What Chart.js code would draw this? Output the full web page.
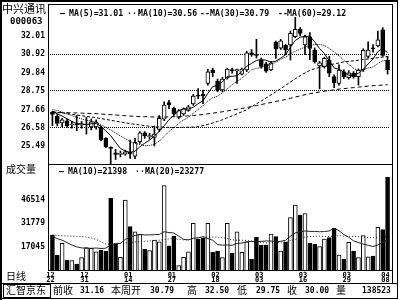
<!DOCTYPE html>
<html>
<head>
<meta charset="utf-8">
<script src="https://cdn.jsdelivr.net/npm/chart.js@4.4.1/dist/chart.umd.min.js"></script>
<style>
  body { margin: 0; background: #fff; }
  #wrap { position: relative; width: 400px; height: 300px; overflow: hidden; background: #fff; }
  canvas { position: absolute; left: 0; }
  .ln { position: absolute; background: #000; }
  .t { position: absolute; white-space: pre; line-height: 1; color: #000; }
  .cjk { font-family: "Noto Sans CJK SC"; }
  .mono { font-family: "DejaVu Sans Mono"; font-weight: bold; }
  .lg { font-size: 8.2px; top: 9px; }
  .vl { font-size: 8.2px; top: 167px; }
</style>
</head>
<body>
<div id="wrap">
  <canvas id="price" width="390" height="160" style="top:5px"></canvas>
  <canvas id="vol" width="390" height="118" style="top:165px"></canvas>

  <!-- frame -->
  <div class="ln" style="left:0;top:0;width:2px;height:300px"></div>
  <div class="ln" style="left:0;top:0;width:398px;height:2px"></div>
  <div class="ln" style="left:48px;top:4px;width:345px;height:1px"></div>
  <div class="ln" style="left:397px;top:0;width:1px;height:299px"></div>
  <div class="ln" style="left:392px;top:4px;width:1px;height:280px"></div>
  <div class="ln" style="left:48px;top:4px;width:1px;height:267px"></div>
  <div class="ln" style="left:48px;top:164px;width:345px;height:1px"></div>
  <div class="ln" style="left:48px;top:270px;width:345px;height:1px"></div>
  <div class="ln" style="left:0;top:283px;width:398px;height:1px"></div>
  <div class="ln" style="left:0;top:298px;width:398px;height:1px"></div>
  <div style="position:absolute;left:3px;top:284px;width:46px;height:12px;border:1px solid #000"></div>

  <!-- left column -->
  <div class="t cjk" style="left:2px;top:3px;font-size:11px">中兴通讯</div>
  <div class="t mono" style="left:10px;top:17px;font-size:9px">000063</div>
  <div class="t cjk" style="left:6px;top:164px;font-size:10px">成交量</div>
  <div class="t cjk" style="left:6px;top:271px;font-size:10px">日线</div>

  <!-- legends -->
  <div class="t mono lg" style="left:60px">—</div>
  <div class="t mono lg" style="left:69px">MA(5)=31.01</div>
  <div class="t mono lg" style="left:127px">···</div>
  <div class="t mono lg" style="left:138px">MA(10)=30.56</div>
  <div class="t mono lg" style="left:200px">--</div>
  <div class="t mono lg" style="left:210px">MA(30)=30.79</div>
  <div class="t mono lg" style="left:278px">--</div>
  <div class="t mono lg" style="left:287px">MA(60)=29.12</div>
  <div class="t mono vl" style="left:59px">—</div>
  <div class="t mono vl" style="left:68px">MA(10)=21398</div>
  <div class="t mono vl" style="left:135px">···</div>
  <div class="t mono vl" style="left:145px">MA(20)=23277</div>

  <!-- info bar -->
  <div class="t cjk" style="left:6px;top:285px;font-size:10px">汇智京东</div>
  <div class="t cjk" style="left:53px;top:285px;font-size:10px">前收</div>
  <div class="t mono" style="left:80px;top:287px;font-size:8px">31.16</div>
  <div class="t cjk" style="left:111px;top:285px;font-size:10px">本周开</div>
  <div class="t mono" style="left:150px;top:287px;font-size:8px">30.79</div>
  <div class="t cjk" style="left:187px;top:285px;font-size:10px">高</div>
  <div class="t mono" style="left:205px;top:287px;font-size:8px">32.50</div>
  <div class="t cjk" style="left:237px;top:285px;font-size:10px">低</div>
  <div class="t mono" style="left:256px;top:287px;font-size:8px">29.75</div>
  <div class="t cjk" style="left:287px;top:285px;font-size:10px">收</div>
  <div class="t mono" style="left:305px;top:287px;font-size:8px">30.00</div>
  <div class="t cjk" style="left:336px;top:285px;font-size:10px">量</div>
  <div class="t mono" style="left:362px;top:287px;font-size:8px">138523</div>
</div>

<script>
// trading days, 2004-12-22 .. 2005-04-08
const days = [
  "12/22","12/23","12/24","12/27","12/28","12/29","12/30","12/31",
  "01/04","01/05","01/06","01/07","01/10","01/11","01/12","01/13","01/14","01/17","01/18","01/19",
  "01/20","01/21","01/24","01/25","01/26","01/27","01/28","01/31",
  "02/01","02/02","02/03","02/04","02/16","02/17","02/18","02/21","02/22","02/23","02/24","02/25","02/28",
  "03/01","03/02","03/03","03/04","03/07","03/08","03/09","03/10","03/11","03/14","03/15","03/16",
  "03/17","03/18","03/21","03/22","03/23","03/24","03/25","03/28","03/29","03/30","03/31",
  "04/01","04/04","04/05","04/06","04/07","04/08"
];
const shownDays = ["12/22","12/31","01/14","01/27","02/18","03/03","03/16","03/29","04/08"];

const open = [27.51,27.27,26.86,26.99,26.74,26.80,26.74,26.74,26.62,26.62,26.60,25.95,25.42,25.10,25.00,25.02,25.12,24.90,25.75,26.28,
  26.05,26.00,26.48,27.08,28.06,27.73,27.19,27.39,27.60,27.98,28.50,28.56,29.20,29.99,29.34,28.81,29.52,29.99,29.95,29.75,
  29.99,31.01,30.90,30.60,30.35,30.00,31.63,31.28,31.45,31.47,31.96,32.40,31.47,31.96,31.17,30.23,30.19,30.58,29.60,29.20,
  29.89,29.54,29.80,29.60,29.99,30.79,31.30,31.41,32.36,30.58];
const high = [27.55,27.39,27.14,27.10,26.95,27.30,26.95,27.20,27.10,27.05,26.68,26.00,25.45,25.30,25.20,25.25,25.85,25.95,26.35,26.35,
  26.25,26.68,27.30,28.11,28.20,27.80,27.65,27.75,27.90,28.55,28.90,28.80,30.03,30.10,29.45,29.55,30.10,30.10,30.05,30.10,
  31.10,31.20,31.81,30.70,30.45,30.50,31.70,31.80,31.50,32.30,33.10,32.50,32.05,32.20,31.30,30.50,30.75,30.80,29.70,30.30,
  30.00,29.95,29.90,30.05,31.25,31.65,31.50,32.30,32.50,30.80];
const low = [26.70,26.68,26.64,26.60,26.55,26.40,26.55,26.20,26.45,26.50,25.80,25.40,24.40,24.70,24.85,24.95,24.77,24.75,25.65,25.95,
  25.90,25.50,26.35,27.00,27.70,27.30,27.10,27.30,27.55,27.90,28.30,28.00,29.10,29.60,28.70,28.70,29.45,29.80,29.20,29.70,
  29.90,30.80,30.70,30.10,29.85,29.95,30.68,31.20,30.90,30.58,31.90,32.00,30.90,30.60,30.40,28.87,30.10,29.60,28.95,29.10,
  29.50,29.45,29.50,29.10,29.90,30.70,31.05,31.35,30.80,29.75];
const close = [27.37,26.84,27.04,26.68,26.80,26.74,26.80,26.77,26.92,26.92,25.87,25.46,25.36,25.00,25.05,25.15,25.05,25.72,26.28,26.09,
  26.12,26.20,27.14,27.92,27.92,27.39,27.59,27.69,27.82,28.45,28.45,28.46,29.89,29.82,28.81,29.46,30.05,29.95,30.00,30.05,
  31.00,30.88,30.85,30.20,29.92,30.40,31.22,31.72,31.20,32.16,32.40,32.16,31.96,31.27,30.48,30.42,30.68,29.80,29.24,29.99,
  29.60,29.83,29.60,29.99,31.16,31.17,31.25,31.78,30.85,30.00];

const ma5 = [27.55,27.40,27.27,27.11,26.95,26.82,26.81,26.76,26.81,26.83,26.66,26.39,26.11,25.72,25.35,25.20,25.12,25.19,25.45,25.66,
  25.85,26.08,26.37,26.69,27.06,27.31,27.59,27.70,27.68,27.79,28.00,28.17,28.61,29.01,29.09,29.29,29.61,29.62,29.65,29.90,
  30.21,30.38,30.56,30.60,30.57,30.45,30.52,30.69,30.89,31.34,31.74,31.93,31.98,31.99,31.65,31.26,30.96,30.53,30.12,30.03,
  29.86,29.69,29.65,29.80,30.04,30.35,30.64,31.08,31.27,31.01];
const ma10 = [27.65,27.60,27.50,27.40,27.30,27.19,27.10,27.02,26.96,26.89,26.74,26.60,26.44,26.27,26.09,25.93,25.76,25.65,25.59,25.51,
  25.53,25.60,25.78,26.07,26.36,26.58,26.84,27.04,27.19,27.43,27.66,27.88,28.16,28.35,28.44,28.65,28.89,29.12,29.33,29.50,
  29.75,30.00,30.09,30.13,30.24,30.33,30.45,30.63,30.75,30.96,31.10,31.23,31.34,31.44,31.50,31.50,31.45,31.26,31.06,30.84,
  30.56,30.33,30.09,29.96,30.04,30.11,30.17,30.37,30.54,30.56];
const ma30 = [27.52,27.48,27.45,27.41,27.37,27.33,27.29,27.25,27.21,27.17,27.12,27.07,27.02,26.97,26.92,26.87,26.82,26.78,26.74,26.70,
  26.67,26.64,26.62,26.61,26.60,26.59,26.59,26.60,26.61,26.62,26.64,26.70,26.78,26.86,26.95,27.05,27.17,27.28,27.40,27.52,
  27.64,27.82,27.99,28.16,28.34,28.52,28.70,28.89,29.08,29.29,29.47,29.65,29.82,29.97,30.07,30.15,30.22,30.29,30.35,30.41,
  30.47,30.50,30.54,30.57,30.61,30.64,30.68,30.72,30.75,30.79];
const ma60 = [27.50,27.49,27.48,27.47,27.46,27.45,27.44,27.43,27.42,27.41,27.39,27.37,27.35,27.33,27.31,27.29,27.27,27.25,27.24,27.23,
  27.22,27.21,27.21,27.21,27.22,27.23,27.24,27.26,27.28,27.30,27.33,27.36,27.40,27.44,27.48,27.52,27.57,27.62,27.67,27.72,
  27.77,27.83,27.89,27.95,28.01,28.07,28.13,28.19,28.25,28.32,28.39,28.46,28.53,28.59,28.64,28.69,28.74,28.78,28.82,28.86,
  28.89,28.92,28.95,28.98,29.01,29.04,29.06,29.08,29.10,29.12];

const volume = [24250,11700,19050,8580,8140,6070,10020,16300,15900,13780,14850,14220,47260,18610,10270,46200,29460,26320,24690,15480,
  14410,21120,20050,55170,17540,23630,5010,10270,13780,31590,21750,22180,31590,13410,14220,10020,31590,12780,26320,13410,
  20050,9020,22810,17985,17985,24880,23190,14220,19680,35100,43070,36800,37610,19050,18420,16920,21750,22560,28460,11720,
  9020,19680,14220,10020,23820,10500,11000,29000,27600,60423];
const volMa10 = [23200,22000,21000,19500,18000,16800,16200,15900,15900,16100,15800,16000,18000,19000,19000,21500,23000,24000,24500,24300,
  24300,24500,24600,26300,25800,25500,23500,21500,21200,22200,22500,23200,22000,21000,18200,17900,18000,17800,19000,19200,
  20000,20200,20000,20300,20500,20500,20000,20300,21000,23500,25500,26300,26800,26500,26500,26300,26400,26800,28400,27000,
  24500,22800,20600,19500,18500,17800,17000,18000,19500,21398];
const volMa20 = [24300,24000,23800,23600,23500,23400,23300,23000,22400,21500,20000,18500,18500,18900,19000,19300,19600,19900,20100,20300,
  20500,20800,21000,21500,21800,22000,21500,21200,21200,22000,22500,22800,23000,22900,23000,22500,22000,21200,21000,21000,
  20800,20500,19800,19500,19300,19500,19600,19800,20000,20800,21500,22500,23000,23200,23500,23400,23300,23400,23600,23800,
  23600,23500,23300,23200,23000,22700,22500,22800,23100,23277];

const priceTicks = [25.49, 26.58, 27.66, 28.75, 29.84, 30.92, 32.01];
const priceGrid = [26.58, 28.75, 30.92];
const volTicks = [17045, 31779, 46514];

const mono = "'DejaVu Sans Mono'";
const isUp = i => close[i] >= open[i];
// fixed left column, no extra room for half labels
const fixY = s => { s.width = 50; s.paddingTop = 0; s.paddingBottom = 0; };

function maLine(data, dash, color) {
  return {
    type: "line", data: data, borderColor: color || "#000", borderWidth: 1,
    borderDash: dash, pointRadius: 0, tension: 0, fill: false
  };
}

new Chart(document.getElementById("price"), {
  type: "bar",
  data: {
    labels: days,
    datasets: [
      maLine(ma5, []),
      maLine(ma10, [1, 1]),
      maLine(ma30, [3, 2]),
      maLine(ma60, [4, 3]),
      {
        // candle bodies
        data: days.map((d, i) => [open[i], close[i]]),
        backgroundColor: ctx => isUp(ctx.dataIndex) ? "#fff" : "#000",
        borderColor: "#000",
        borderWidth: 1,
        borderSkipped: false,
        barThickness: 4,
        minBarLength: 1,
        grouped: false
      },
      {
        // wicks
        data: days.map((d, i) => [low[i], high[i]]),
        backgroundColor: "#000",
        borderWidth: 0,
        barThickness: 1,
        grouped: false
      }
    ]
  },
  options: {
    responsive: false,
    animation: false,
    devicePixelRatio: 1,
    events: [],
    layout: { padding: 0 },
    plugins: { legend: { display: false }, tooltip: { enabled: false } },
    scales: {
      x: { display: false },
      y: {
        min: 24.374,
        max: 33.835,
        afterFit: fixY,
        afterBuildTicks: s => { s.ticks = priceTicks.map(v => ({ value: v })); },
        ticks: {
          padding: 5,
          color: "#000",
          font: { family: mono, size: 8, weight: "bold" },
          callback: v => v.toFixed(2)
        },
        grid: {
          drawTicks: false,
          lineWidth: 1,
          color: ctx => ctx.tick && priceGrid.includes(ctx.tick.value) ? "#000" : "rgba(0,0,0,0)"
        },
        border: { display: false, dash: [1, 1] }
      }
    }
  }
});

new Chart(document.getElementById("vol"), {
  type: "bar",
  data: {
    labels: days,
    datasets: [
      maLine(volMa10, [], "#222"),
      maLine(volMa20, [1, 2], "#222"),
      {
        data: volume,
        backgroundColor: ctx => isUp(ctx.dataIndex) ? "#fff" : "#000",
        borderColor: "#000",
        borderWidth: 1,
        borderSkipped: "start",
        barThickness: 4
      }
    ]
  },
  options: {
    responsive: false,
    animation: false,
    devicePixelRatio: 1,
    events: [],
    layout: { padding: 0 },
    plugins: { legend: { display: false }, tooltip: { enabled: false } },
    scales: {
      x: {
        grid: { display: false, drawTicks: false },
        border: { display: false },
        afterFit: s => { s.height = 13; s.paddingLeft = 0; s.paddingRight = 0; },
        ticks: {
          autoSkip: false,
          maxRotation: 0,
          padding: 2,
          labelOffset: -2,
          color: "#000",
          font: { family: mono, size: 7, weight: "bold", lineHeight: 0.8 },
          callback: (v, i) => shownDays.includes(days[i]) ? days[i].split("/") : ""
        }
      },
      y: {
        min: 2310,
        max: 68145,
        afterFit: fixY,
        afterBuildTicks: s => { s.ticks = volTicks.map(v => ({ value: v })); },
        ticks: {
          padding: 5,
          color: "#000",
          font: { family: mono, size: 8, weight: "bold" },
          callback: v => String(v)
        },
        grid: { display: false, drawTicks: false },
        border: { display: false }
      }
    }
  }
});
</script>
</body>
</html>
